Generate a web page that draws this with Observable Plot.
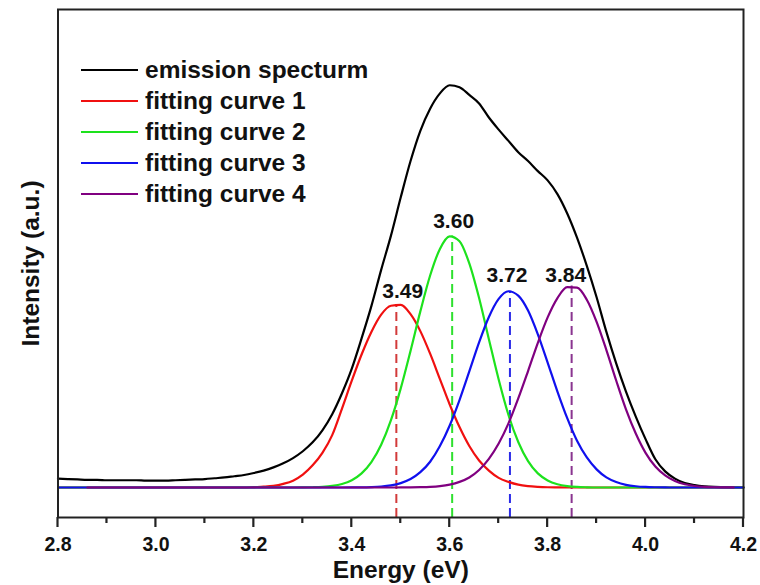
<!DOCTYPE html>
<html>
<head>
<meta charset="utf-8">
<script src="https://cdn.jsdelivr.net/npm/d3@7"></script>
<script src="https://cdn.jsdelivr.net/npm/@observablehq/plot@0.6"></script>
<style>
  html, body { margin: 0; padding: 0; background: #fff; }
  #wrap { position: relative; width: 760px; height: 585px; font-family: "Liberation Sans", Arial, Helvetica, sans-serif; }
  #legend { position: absolute; left: 81px; top: 54px; }
  .row { display: flex; align-items: center; height: 31px; }
  .sw { width: 57px; height: 0; border-top: 2.5px solid; margin-right: 7px; }
  .lab { font-size: 24.5px; font-weight: bold; color: #111; white-space: nowrap; }
</style>
</head>
<body>
<div id="wrap"></div>
<script>
// ---- data ----
const energy = [
  2.80, 2.82, 2.84, 2.86, 2.88, 2.90, 2.92, 2.94, 2.96, 2.98,
  3.00, 3.02, 3.04, 3.06, 3.08, 3.10, 3.12, 3.14, 3.16, 3.18,
  3.20, 3.22, 3.24, 3.26, 3.28, 3.30, 3.32, 3.34, 3.36, 3.38,
  3.40, 3.42, 3.44, 3.46, 3.48, 3.50, 3.52, 3.54, 3.56, 3.58,
  3.60, 3.62, 3.64, 3.66, 3.68, 3.70, 3.72, 3.74, 3.76, 3.78,
  3.80, 3.82, 3.84, 3.86, 3.88, 3.90, 3.92, 3.94, 3.96, 3.98,
  4.00, 4.02, 4.04, 4.06, 4.08, 4.10, 4.12, 4.14, 4.16, 4.18, 4.20
];
const emission = [
  2.2, 2.1, 2.0, 1.9, 1.9, 1.8, 1.8, 1.8, 1.8, 1.7,
  1.7, 1.7, 1.8, 1.9, 2.0, 2.1, 2.3, 2.5, 2.8, 3.1,
  3.6, 4.2, 5.0, 6.0, 7.3, 9.0, 11.2, 14.2, 18.2, 23.4,
  29.5, 37.0, 45.0, 54.0, 62.5, 72.0, 81.0, 88.5, 94.0, 97.8,
  99.8, 99.3, 97.4, 95.3, 91.8, 88.8, 86.0, 83.2, 81.0, 78.5,
  76.2, 72.8, 68.0, 62.0, 55.0, 47.2, 38.6, 30.8, 23.8, 17.6,
  12.0, 7.0, 4.0, 2.2, 1.1, 0.6, 0.3, 0.15, 0.1, 0.05, 0
];
const fit1 = [
  0, 0, 0, 0, 0, 0, 0, 0, 0, 0,
  0, 0, 0, 0, 0, 0, 0, 0, 0, 0,
  0.1, 0.2, 0.4, 0.9, 1.7, 3.2, 5.5, 8.6, 13.0, 19.6,
  26.5, 33.0, 38.6, 42.9, 45.1, 45.3, 43.0, 38.8, 33.2, 26.9,
  20.6, 15.0, 10.3, 6.7, 4.2, 2.4, 1.4, 0.7, 0.35, 0.17,
  0.07, 0.03, 0, 0, 0, 0, 0, 0, 0, 0,
  0, 0, 0, 0, 0, 0, 0, 0, 0, 0, 0
];
const fit2 = [
  0, 0, 0, 0, 0, 0, 0, 0, 0, 0,
  0, 0, 0, 0, 0, 0, 0, 0, 0, 0,
  0, 0, 0, 0, 0, 0.02, 0.07, 0.17, 0.4, 0.87,
  1.81, 3.5, 6.3, 10.6, 16.7, 24.6, 33.9, 43.7, 52.6, 59.2,
  62.3, 61.1, 55.6, 47.0, 36.8, 26.8, 18.0, 11.3, 6.55, 3.5,
  1.76, 0.82, 0.35, 0.14, 0.05, 0, 0, 0, 0, 0,
  0, 0, 0, 0, 0, 0, 0, 0, 0, 0, 0
];
const fit3 = [
  0, 0, 0, 0, 0, 0, 0, 0, 0, 0,
  0, 0, 0, 0, 0, 0, 0, 0, 0, 0,
  0, 0, 0, 0, 0, 0, 0, 0, 0, 0,
  0.02, 0.04, 0.11, 0.25, 0.54, 1.1, 2.1, 3.8, 6.4, 10.3,
  15.4, 21.7, 28.8, 36.0, 42.3, 46.8, 48.7, 47.6, 43.9, 38.0,
  31.0, 23.8, 17.2, 11.6, 7.45, 4.5, 2.5, 1.35, 0.67, 0.32,
  0.14, 0.06, 0.02, 0, 0, 0, 0, 0, 0, 0, 0
];
const fit4 = [
  null, null, null, 0, 0, 0, 0, 0, 0, 0,
  0, 0, 0, 0, 0, 0, 0, 0, 0, 0,
  0, 0, 0, 0, 0, 0, 0, 0, 0, 0,
  0, 0, 0, 0, 0, 0.01, 0.03, 0.08, 0.17, 0.36,
  0.73, 1.4, 2.5, 4.35, 7.1, 10.9, 15.9, 22.1, 28.9, 35.9,
  42.2, 47.0, 49.7, 49.6, 46.6, 41.1, 34.1, 26.55, 19.4, 13.4,
  8.6, 5.2, 3.0, 1.6, 0.8, 0.38, 0.17, 0.07, 0.03, 0.01, null
];
const seriesNames = ["emission specturm", "fitting curve 1", "fitting curve 2", "fitting curve 3", "fitting curve 4"];
const peakCenters = [3.491, 3.605, 3.723, 3.849];
const peakHeights = [45.4, 62.4, 48.7, 50.0];
const peakLabels = ["3.49", "3.60", "3.72", "3.84"];
const labelEnergies = [3.504, 3.608, 3.717, 3.837];
const labelLevels = [46.9, 64.5, 51.1, 51.1];
const majorTicks = [2.8, 3.0, 3.2, 3.4, 3.6, 3.8, 4.0, 4.2];
const minorTicks = [2.9, 3.1, 3.3, 3.5, 3.7, 3.9, 4.1];
const xTitle = "Energy (eV)";
const yTitle = "Intensity (a.u.)";

// ---- styles ----
const colors = ["#000000", "#f01010", "#1de21d", "#1010ee", "#800080"];
const dashColors = ["#d23a3a", "#2ee02e", "#2a2ae8", "#8a3590"];
const font = "Liberation Sans, Arial, Helvetica, sans-serif";
const yDomain = [-7.44, 118.6];

const seriesValues = [emission, fit1, fit2, fit3, fit4];
const lines = seriesValues.map((vals, k) =>
  Plot.line(
    energy.map((e, i) => ({energy: e, intensity: vals[i]})),
    {x: "energy", y: "intensity", stroke: colors[k], strokeWidth: 2.2, curve: "monotone-x"}
  )
);
const peaks = peakCenters.map((c, i) => ({center: c, height: peakHeights[i], color: dashColors[i]}));
const labels = peakLabels.map((t, i) => ({text: t, energy: labelEnergies[i], level: labelLevels[i]}));

const chart = Plot.plot({
  width: 760,
  height: 585,
  marginLeft: 57.5,
  marginRight: 17,
  marginTop: 9,
  marginBottom: 68,
  style: {fontFamily: font, background: "#fff", overflow: "visible"},
  x: {domain: [2.8, 4.2], axis: null},
  y: {domain: yDomain, axis: null},
  marks: [
    Plot.ruleX(peaks, {x: "center", y1: () => yDomain[0], y2: "height", stroke: d => d.color, strokeWidth: 2, strokeDasharray: "9,5"}),
    ...lines,
    Plot.text(labels, {x: "energy", y: "level", text: "text", lineAnchor: "bottom", fontSize: 21, fontWeight: "bold", fill: "#111"}),
    Plot.text(majorTicks, {x: d => d, frameAnchor: "bottom", dy: 20, lineAnchor: "top", text: d => d.toFixed(1), fontSize: 19.5, fontWeight: "bold", fill: "#111"}),
    Plot.frame({stroke: "#222", strokeWidth: 2}),
    Plot.text([xTitle], {frameAnchor: "bottom", dy: 43, lineAnchor: "top", textAnchor: "middle", fontSize: 24.5, fontWeight: "bold", fill: "#111"}),
    Plot.text([yTitle], {frameAnchor: "left", dx: -27, rotate: -90, textAnchor: "middle", lineAnchor: "middle", fontSize: 24.5, fontWeight: "bold", fill: "#111"})
  ]
});

// x-axis tick marks, placed with the chart's own scales, drawn outward below the frame
const sx = chart.scale("x");
const sy = chart.scale("y");
const yBottom = sy.apply(yDomain[0]);
const tickG = d3.select(chart).append("g").attr("stroke", "#222").attr("stroke-width", 2.2);
tickG.selectAll("line.major").data(majorTicks).join("line")
  .attr("class", "major")
  .attr("x1", d => sx.apply(d)).attr("x2", d => sx.apply(d))
  .attr("y1", yBottom).attr("y2", yBottom + 10);
tickG.selectAll("line.minor").data(minorTicks).join("line")
  .attr("class", "minor")
  .attr("x1", d => sx.apply(d)).attr("x2", d => sx.apply(d))
  .attr("y1", yBottom).attr("y2", yBottom + 6);

const wrap = document.getElementById("wrap");
wrap.appendChild(chart);
const legend = document.createElement("div");
legend.id = "legend";
seriesNames.forEach((name, k) => {
  const row = document.createElement("div");
  row.className = "row";
  const sw = document.createElement("div");
  sw.className = "sw";
  sw.style.borderTopColor = colors[k];
  const lab = document.createElement("span");
  lab.className = "lab";
  lab.textContent = name;
  row.appendChild(sw);
  row.appendChild(lab);
  legend.appendChild(row);
});
wrap.appendChild(legend);
</script>
</body>
</html>
